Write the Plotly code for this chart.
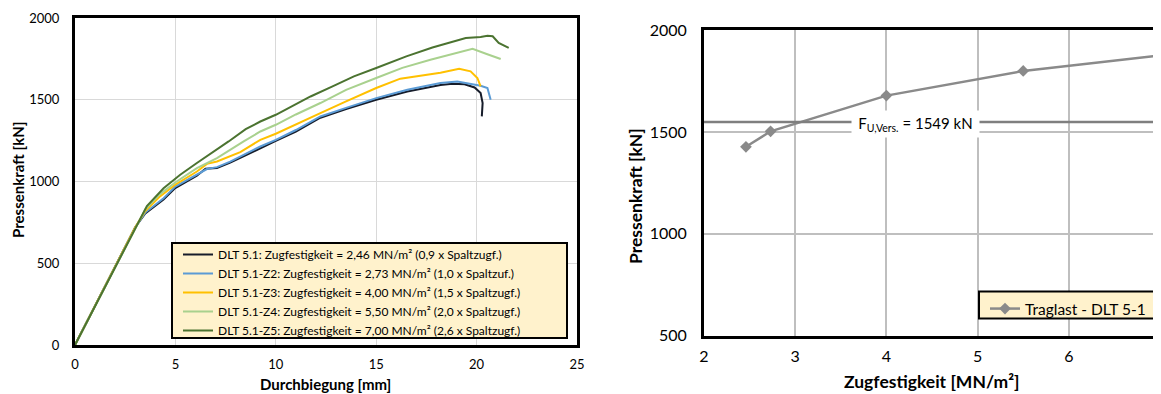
import plotly.graph_objects as go

# Viewport is 1161x394; the page body adds an 8px margin, so the figure is 8px smaller.
VW, VH = 1161, 394
OFF = 8
W, H = VW - OFF, VH - OFF
FONT = "Lato"

# ---- Left chart: load-deflection curves ----
names = [
    "DLT 5.1: Zugfestigkeit = 2,46 MN/m² (0,9 x Spaltzugf.)",
    "DLT 5.1-Z2: Zugfestigkeit = 2,73 MN/m² (1,0 x Spaltzuf.)",
    "DLT 5.1-Z3: Zugfestigkeit = 4,00 MN/m² (1,5 x Spaltzugf.)",
    "DLT 5.1-Z4: Zugfestigkeit = 5,50 MN/m² (2,0 x Spaltzugf.)",
    "DLT 5.1-Z5: Zugfestigkeit = 7,00 MN/m² (2,6 x Spaltzugf.)",
]
colors = ["#161c2a", "#5b9bd5", "#ffc000", "#a9d18e", "#4b7330"]

x_z1 = [0, 1, 2, 3, 3.5, 4.41, 4.99, 6.07, 6.5, 7.07, 7.73, 9.23, 10, 11, 12.22, 13.5, 15, 16.55, 18.2, 18.8, 19.4, 19.9, 20.2, 20.3, 20.26]
y_z1 = [0, 240, 480, 720, 805, 890, 960, 1035, 1078, 1082, 1115, 1205, 1248, 1305, 1390, 1443, 1500, 1550, 1590, 1598, 1595, 1575, 1541, 1480, 1398]

x_z2 = [0, 1, 2, 3, 3.5, 4.41, 4.99, 6.07, 6.57, 7.07, 7.73, 9.23, 10, 11, 12.22, 13.5, 15, 16.55, 18.2, 19.04, 19.8, 20.2, 20.54, 20.7]
y_z2 = [0, 240, 480, 720, 810, 898, 969, 1041, 1076, 1088, 1122, 1214, 1255, 1315, 1398, 1450, 1510, 1561, 1602, 1612, 1598, 1586, 1572, 1500]

x_z3 = [0, 1, 2, 3, 3.5, 4.2, 4.99, 6.07, 6.57, 7.07, 8.23, 9.23, 10, 11, 12.22, 13.5, 15, 16.2, 17.05, 18.2, 19.13, 19.7, 20.04, 20.2]
y_z3 = [0, 240, 480, 720, 820, 905, 980, 1061, 1108, 1122, 1180, 1255, 1292, 1350, 1418, 1490, 1572, 1629, 1643, 1665, 1690, 1674, 1633, 1582]

x_z4 = [0, 1, 2, 3, 3.5, 4.2, 4.99, 6.07, 7.07, 8.4, 9.23, 10, 11, 12.22, 13.5, 15, 16.3, 17.7, 18.8, 19.8, 20.5, 21.2]
y_z4 = [0, 240, 480, 720, 830, 920, 994, 1082, 1143, 1245, 1306, 1347, 1410, 1480, 1560, 1633, 1695, 1745, 1780, 1811, 1780, 1749]

x_z5 = [0, 1, 2, 3, 3.58, 4.41, 5.24, 6.07, 6.9, 7.65, 8.5, 9.23, 10, 10.8, 11.73, 12.8, 13.89, 15, 16.05, 16.5, 17.8, 18.6, 19.46, 20.2, 20.54, 20.8, 21.1, 21.6]
y_z5 = [0, 240, 480, 720, 850, 959, 1041, 1113, 1180, 1245, 1320, 1367, 1408, 1460, 1520, 1580, 1643, 1694, 1745, 1765, 1820, 1850, 1878, 1884, 1892, 1888, 1847, 1817]

curves_x = [x_z1, x_z2, x_z3, x_z4, x_z5]
curves_y = [y_z1, y_z2, y_z3, y_z4, y_z5]

# ---- Right chart: ultimate load vs tensile strength ----
zugfestigkeit = [2.46, 2.73, 4.00, 5.50, 7.00]
traglast = [1427, 1503, 1678, 1799, 1875]
f_u_vers = 1549

fig = go.Figure()
for xs, ys, nm, c in zip(curves_x, curves_y, names, colors):
    fig.add_trace(go.Scatter(x=xs, y=ys, mode="lines", name=nm,
                             line=dict(color=c, width=2),
                             xaxis="x", yaxis="y", legend="legend"))

fig.add_trace(go.Scatter(x=zugfestigkeit, y=traglast, mode="lines+markers",
                         name="Traglast - DLT 5-1",
                         line=dict(color="#8a8a8a", width=2.5),
                         marker=dict(symbol="diamond", size=9, color="#8a8a8a"),
                         xaxis="x2", yaxis="y2", legend="legend2", cliponaxis=False))

def px(v):
    """viewport pixel x -> paper fraction"""
    return (v - OFF) / W

def py(v):
    """viewport pixel y (from top) -> paper fraction"""
    return (H - (v - OFF)) / H

axis_common = dict(showline=True, linecolor="black", mirror=True, zeroline=False,
                   ticks="", showgrid=True, automargin=False)

fig.update_layout(
    width=W, height=H,
    margin=dict(l=0, r=0, t=0, b=0, autoexpand=False),
    paper_bgcolor="white", plot_bgcolor="white",
    font=dict(family=FONT, color="black"),
    xaxis=dict(domain=[px(75), px(577)], range=[0, 25], dtick=5, anchor="y",
               gridcolor="#d9d9d9", gridwidth=1, linewidth=3,
               tickfont=dict(size=13), ticklabelstandoff=5, **axis_common),
    yaxis=dict(domain=[py(345), py(18)], range=[0, 2000], dtick=500, anchor="x",
               gridcolor="#d9d9d9", gridwidth=1, linewidth=3,
               tickfont=dict(size=13), ticklabelstandoff=10, **axis_common),
    xaxis2=dict(domain=[px(704), px(1160)], range=[2, 7], dtick=1, anchor="y2",
                gridcolor="#bfbfbf", gridwidth=2, linewidth=3,
                tickfont=dict(size=16), ticklabelstandoff=4, **axis_common),
    yaxis2=dict(domain=[py(335.7), py(30)], range=[500, 2000], dtick=500, anchor="x2",
                gridcolor="#bfbfbf", gridwidth=2, linewidth=3,
                tickfont=dict(size=16), ticklabelstandoff=11, **axis_common),
    legend=dict(x=px(178), y=py(240), xanchor="left", yanchor="top",
                bgcolor="rgba(0,0,0,0)", borderwidth=0,
                font=dict(size=12, family=FONT), itemwidth=30,
                tracegroupgap=0),
    legend2=dict(x=px(985), y=py(292), xanchor="left", yanchor="top",
                 bgcolor="rgba(0,0,0,0)", borderwidth=0,
                 font=dict(size=15.5, family=FONT), itemwidth=30),
    showlegend=True,
)

# legend frames
fig.add_shape(type="rect", xref="paper", yref="paper",
              x0=px(172), x1=px(567), y0=py(338), y1=py(243),
              fillcolor="#fff2cc", line=dict(color="black", width=2), layer="above")
fig.add_shape(type="rect", xref="paper", yref="paper",
              x0=px(979), x1=px(1154), y0=py(318.5), y1=py(291.5),
              fillcolor="#fff2cc", line=dict(color="black", width=2), layer="above")

fig.add_shape(type="line", xref="x2", yref="y2", x0=2, x1=7, y0=f_u_vers, y1=f_u_vers,
              line=dict(color="#7f7f7f", width=2.5), layer="above")

fig.add_annotation(xref="x2", yref="y2", x=4.32, y=f_u_vers - 12,
                   xanchor="center", yanchor="middle",
                   text="F<sub>U,Vers.</sub> = 1549 kN", showarrow=False,
                   bgcolor="white", width=125, height=24,
                   font=dict(size=15, family=FONT))

title_font = dict(family=FONT, color="black")
anch = dict(xanchor="center", yanchor="middle", showarrow=False,
            xref="paper", yref="paper")
fig.add_annotation(x=px(325), y=py(384), text="<b>Durchbiegung [mm]</b>",
                   font=dict(size=15, **title_font), **anch)
fig.add_annotation(x=px(18), y=py(180), text="<b>Pressenkraft [kN]</b>", textangle=-90,
                   font=dict(size=15, **title_font), **anch)
fig.add_annotation(x=px(932), y=py(381), text="<b>Zugfestigkeit [MN/m²]</b>",
                   font=dict(size=17.5, **title_font), **anch)
fig.add_annotation(x=px(636), y=py(196), text="<b>Pressenkraft [kN]</b>", textangle=-90,
                   font=dict(size=17.5, **title_font), **anch)

fig.write_html("out.html")
